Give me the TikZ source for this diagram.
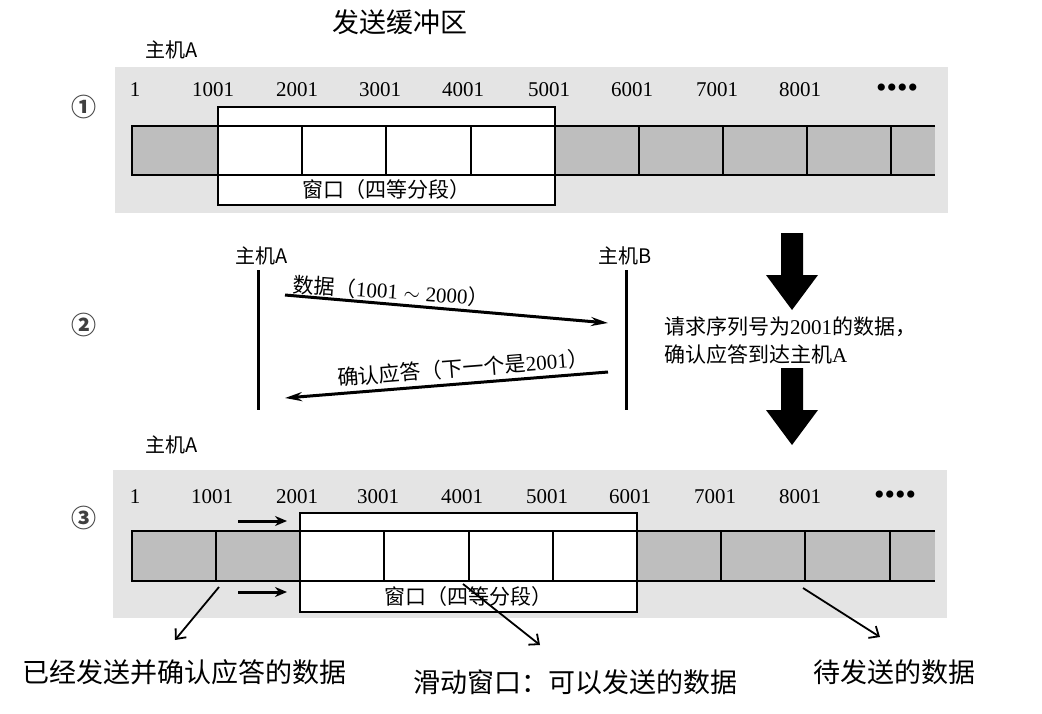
\documentclass[tikz,border=0pt]{standalone}
\usepackage{fontspec}
\setmainfont{Liberation Serif}
\newfontfamily\cjk{Noto Sans CJK SC}
\usetikzlibrary{arrows.meta}
\definecolor{bandgray}{HTML}{E4E4E4}
\definecolor{cellgray}{HTML}{BEBEBE}
\definecolor{circgray}{HTML}{404040}
\begin{document}
\begin{tikzpicture}[x=1pt,y=-1pt,
  fig/.style={font=\fontsize{21}{24}\selectfont, inner sep=0pt},
  dots/.style={font=\fontsize{30}{30}\selectfont, inner sep=0pt},
  cjkfig/.style={font=\cjk\fontsize{20}{24}\selectfont, inner sep=0pt},
  circnum/.style={font=\cjk\bfseries\fontsize{25}{28}\selectfont, inner sep=0pt, text=circgray},
  captext/.style={font=\cjk\fontsize{27}{30}\selectfont, inner sep=0pt},
  strip/.style={line width=2.4pt},
  win/.style={draw, line width=2pt, fill=white},
  seq/.style={line width=3pt, -{Stealth[length=17pt,width=9pt]}},
  ptr/.style={line width=1.8pt, -{Straight Barb[length=8pt,width=14pt]}},
  shiftarrow/.style={line width=3pt, -{Stealth[length=12pt,width=10pt]}},
  life/.style={line width=3pt},
  bigarrow/.style={fill=black}
]
\useasboundingbox (0,0) rectangle (1042,713);
\fill[white] (0,0) rectangle (1042,713);

% title
\node[captext] (title) at (400,22) {发送缓冲区};

% ---------------- row 1 ----------------
\node[cjkfig] (hostA1) at (172,50) {主机A};
\node[circnum] (c1) at (84,107) {①};
\fill[bandgray] (115,67) rectangle (948,213);
\draw[win] (218,107) rectangle (555,205);
\fill[cellgray] (132,126) rectangle (218,175);
\fill[cellgray] (555,126) rectangle (935,175);
\draw[strip] (935,126) -- (132,126) -- (132,175) -- (935,175);
\foreach \x in {218,302,386,471,555,639,723,807,891}
  \draw[strip] (\x,126) -- (\x,175);
\foreach \x/\t [count=\i] in {135/1,213/1001,297/2001,380/3001,463/4001,549/5001,632/6001,717/7001,800/8001}
  \node[fig] (na\i) at (\x,90) {\t};
\node[dots] (na10) at (897,91) {••••};
\node[fig] (wl1) at (386,190) {{\cjk 窗口（四等分段）}};

% ---------------- row 2 ----------------
\node[circnum] (c2) at (84,325) {②};
\node[cjkfig] (hostA2) at (262,256) {主机A};
\node[cjkfig] (hostB2) at (625,256) {主机B};
\coordinate (a0) at (258,270);
\coordinate (a1) at (258,410);
\coordinate (b0) at (626,270);
\coordinate (b1) at (626,410);
\draw[life] (a0) -- (a1);
\draw[life] (b0) -- (b1);
\coordinate (d0) at (285,295);
\coordinate (d1) at (608,323);
\coordinate (k0) at (608,372);
\coordinate (k1) at (285,398);
\draw[seq] (d0) -- (d1);
\draw[seq] (k0) -- (k1);
\node[fig, rotate=-4] (dlabel) at (391,291) {{\cjk 数据（}1001\;$\sim$\;2000{\cjk ）}};
\node[fig, rotate=4.5] (klabel) at (463,368) {{\cjk 确认应答（下一个是}2001{\cjk ）}};

\fill[bigarrow] (781,233) -- (803,233) -- (803,275) -- (818,275) -- (792,310) -- (766,275) -- (781,275) -- cycle;
\fill[bigarrow] (781,368) -- (803,368) -- (803,410) -- (818,410) -- (792,445) -- (766,410) -- (781,410) -- cycle;
\node[fig, anchor=west] (req1) at (664,327) {{\cjk 请求序列号为}2001{\cjk 的数据，}};
\node[fig, anchor=west] (req2) at (664,355) {{\cjk 确认应答到达主机}A};

% ---------------- row 3 ----------------
\node[cjkfig] (hostA3) at (172,445) {主机A};
\node[circnum] (c3) at (84,518) {③};
\fill[bandgray] (113,470) rectangle (947,618);
\draw[win] (300,513) rectangle (637,612);
\fill[cellgray] (132,531) rectangle (300,581);
\fill[cellgray] (637,531) rectangle (935,581);
\draw[strip] (935,531) -- (132,531) -- (132,581) -- (935,581);
\foreach \x in {216,300,384,469,553,637,721,805,890}
  \draw[strip] (\x,531) -- (\x,581);
\foreach \x/\t [count=\i] in {135/1,212/1001,297/2001,378/3001,462/4001,547/5001,630/6001,715/7001,800/8001}
  \node[fig] (nb\i) at (\x,497) {\t};
\node[dots] (nb10) at (895,498) {••••};
\node[fig] (wl3) at (468,597) {{\cjk 窗口（四等分段）}};
\coordinate (m0) at (238,521);
\coordinate (m1) at (287,521);
\coordinate (m2) at (238,592);
\coordinate (m3) at (287,592);
\draw[shiftarrow] (m0) -- (m1);
\draw[shiftarrow] (m2) -- (m3);

% ---------------- captions ----------------
\node[captext] (cap1) at (185,672) {已经发送并确认应答的数据};
\node[captext] (cap2) at (575,682) {滑动窗口：可以发送的数据};
\node[captext] (cap3) at (894,672) {待发送的数据};
\coordinate (s1) at (219,587);
\coordinate (t1) at (175,640);
\coordinate (s2) at (463,584);
\coordinate (t2) at (540,645);
\coordinate (s3) at (803,588);
\coordinate (t3) at (880,637);
\draw[ptr] (s1) -- (t1);
\draw[ptr] (s2) -- (t2);
\draw[ptr] (s3) -- (t3);
\end{tikzpicture}
\end{document}
